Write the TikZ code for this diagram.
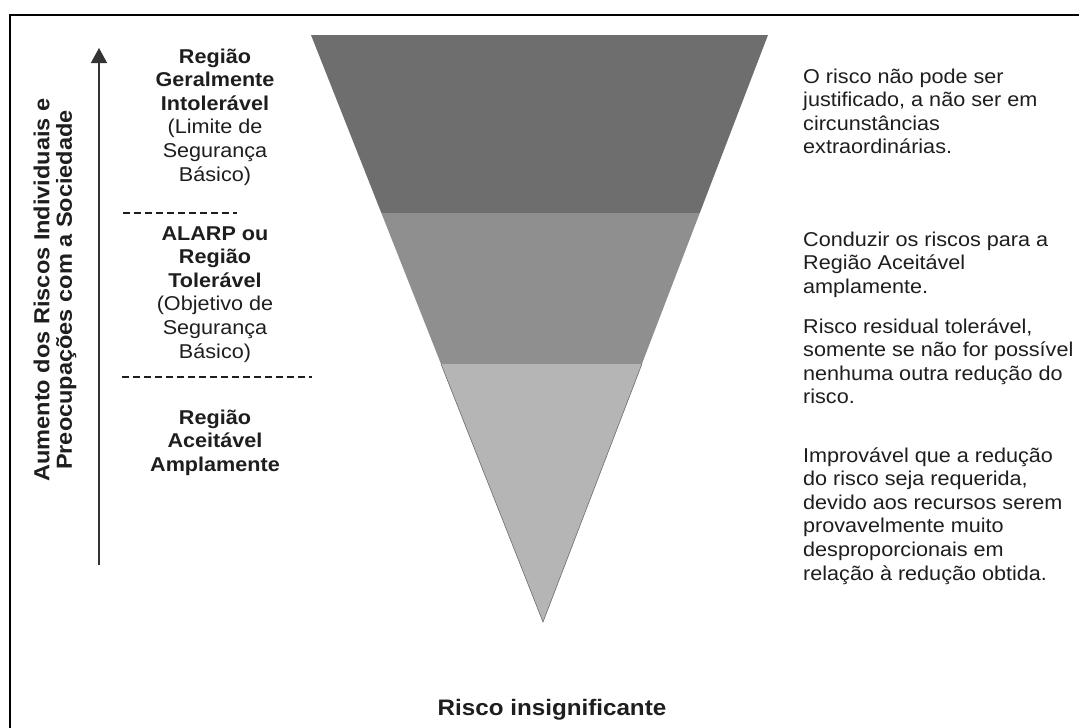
\documentclass[tikz,border=0pt]{standalone}
\usepackage{fontspec}
\setmainfont[FakeStretch=1.08]{Liberation Sans}
\usetikzlibrary{arrows.meta,calc}

\definecolor{inktext}{HTML}{1E1E1E}
\definecolor{bandhigh}{HTML}{6E6E6E}
\definecolor{bandmid}{HTML}{8F8F8F}
\definecolor{bandlow}{HTML}{B5B5B5}

% tabular blocks whose baseline is the first line
\newcommand{\cblock}[1]{\begin{tabular}[t]{@{}c@{}}#1\end{tabular}}
\newcommand{\lblock}[1]{\begin{tabular}[t]{@{}l@{}}#1\end{tabular}}

\tikzset{
  bodytext/.style={inner sep=0pt, anchor=base, text=inktext,
    font=\fontsize{20}{23.6}\selectfont},
  sidetext/.style={bodytext, anchor=base west},
  sidelabel/.style={inner sep=0pt, text=inktext, rotate=90,
    font=\bfseries\fontsize{21.8}{22}\selectfont},
  bottomlabel/.style={inner sep=0pt, anchor=base, text=inktext,
    font=\bfseries\fontsize{22.4}{24}\selectfont},
  divider/.style={draw=inktext, line width=1.2pt, dash pattern=on 7pt off 4pt}
}

\begin{document}
\begin{tikzpicture}[x=1pt,y=-1pt]
\useasboundingbox (0,0) rectangle (1079,728);
\fill[white] (0,0) rectangle (1079,728);

% frame
\coordinate (fbl) at (10,728);
\coordinate (ftl) at (10,15);
\coordinate (ftr) at (1079,15);
\draw[line width=1.5pt, black] (fbl) -- (ftl) -- (ftr);

% inverted triangle split in three bands
\coordinate (A) at (311,35);
\coordinate (B) at (768,35);
\coordinate (C) at (543,622);
\coordinate (L1) at ($(A)!0.30324!(C)$);
\coordinate (R1) at ($(B)!0.30324!(C)$);
\coordinate (L2) at ($(A)!0.56048!(C)$);
\coordinate (R2) at ($(B)!0.56048!(C)$);
\fill[bandhigh] (A) -- (B) -- (R1) -- (L1) -- cycle;
\fill[bandmid] (L1) -- (R1) -- (R2) -- (L2) -- cycle;
\fill[bandlow] (L2) -- (R2) -- (C) -- cycle;
\draw[gray!85!black, line width=0.6pt] (L2) -- (C) -- (R2);

% increasing-risk arrow and its label
\coordinate (arrbot) at (99,565);
\coordinate (arrtop) at (99,48);
\draw[line width=1.4pt, draw=black!80, -{Triangle[length=15pt,width=16pt]}] (arrbot) -- (arrtop);
\node[sidelabel] (axislabel) at (56,290)
  {\cblock{Aumento dos Riscos Individuais e\\Preocupações com a Sociedade}};

% region labels
\node[bodytext] (regA) at (215,63)
  {\cblock{\textbf{Região}\\\textbf{Geralmente}\\\textbf{Intolerável}\\(Limite de\\Segurança\\Básico)}};
\node[bodytext] (regB) at (215,240)
  {\cblock{\textbf{ALARP ou}\\\textbf{Região}\\\textbf{Tolerável}\\(Objetivo de\\Segurança\\Básico)}};
\node[bodytext] (regC) at (215,424)
  {\cblock{\textbf{Região}\\\textbf{Aceitável}\\\textbf{Amplamente}}};

% dashed separators
\coordinate (d1a) at (123,213);
\coordinate (d1b) at (237,213);
\coordinate (d2a) at (122,377);
\coordinate (d2b) at (312,377);
\draw[divider] (d1a) -- (d1b);
\draw[divider] (d2a) -- (d2b);

% descriptions on the right
\node[sidetext] (descA) at (803,83)
  {\lblock{O risco não pode ser\\justificado, a não ser em\\circunstâncias\\extraordinárias.}};
\node[sidetext] (descB) at (803,246)
  {\lblock{Conduzir os riscos para a\\Região Aceitável\\amplamente.}};
\node[sidetext] (descC) at (803,333)
  {\lblock{Risco residual tolerável,\\somente se não for possível\\nenhuma outra redução do\\risco.}};
\node[sidetext] (descD) at (803,462)
  {\lblock{Improvável que a redução\\do risco seja requerida,\\devido aos recursos serem\\provavelmente muito\\desproporcionais em\\relação à redução obtida.}};

% bottom caption
\node[bottomlabel] (bottom) at (552,715) {Risco insignificante};
\end{tikzpicture}
\end{document}
